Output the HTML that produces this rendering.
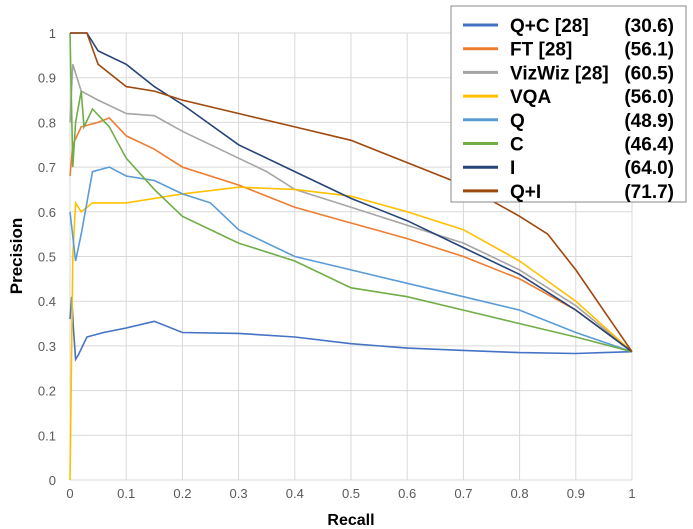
<!DOCTYPE html>
<html><head><meta charset="utf-8"><style>
body{margin:0;background:#fff;}
svg{display:block;font-family:"Liberation Sans",sans-serif;}
</style></head><body>
<svg id="chart" width="693" height="529"></svg>
<script>
const xTicks=[0,0.1,0.2,0.3,0.4,0.5,0.6,0.7,0.8,0.9,1];
const yTicks=[0,0.1,0.2,0.3,0.4,0.5,0.6,0.7,0.8,0.9,1];
const seriesNames=["Q+C [28]","FT [28]","VizWiz [28]","VQA","Q","C","I","Q+I"];
const seriesScores=["(30.6)","(56.1)","(60.5)","(56.0)","(48.9)","(46.4)","(64.0)","(71.7)"];
const seriesColors=["#4472C4","#ED7D31","#A5A5A5","#FFC000","#5B9BD5","#70AD47","#264478","#9E480E"];
const recallQC=[0,0.003,0.006,0.01,0.015,0.03,0.06,0.1,0.15,0.2,0.3,0.4,0.5,0.6,0.7,0.8,0.9,0.95,1];
const precQC=[0.36,0.41,0.34,0.27,0.28,0.32,0.33,0.34,0.355,0.33,0.328,0.32,0.305,0.295,0.29,0.285,0.283,0.285,0.287];
const recallFT=[0,0.005,0.02,0.05,0.07,0.1,0.15,0.2,0.3,0.4,0.5,0.6,0.7,0.8,0.9,1];
const precFT=[0.68,0.75,0.79,0.80,0.81,0.77,0.74,0.70,0.66,0.61,0.575,0.54,0.50,0.45,0.38,0.287];
const recallVW=[0,0.005,0.02,0.05,0.1,0.15,0.2,0.3,0.35,0.4,0.5,0.6,0.7,0.8,0.9,1];
const precVW=[0.8,0.93,0.87,0.85,0.82,0.815,0.78,0.72,0.69,0.65,0.61,0.57,0.53,0.47,0.39,0.287];
const recallVQA=[0,0.005,0.01,0.02,0.04,0.1,0.2,0.3,0.4,0.5,0.6,0.7,0.8,0.9,1];
const precVQA=[0,0.5,0.62,0.60,0.62,0.62,0.64,0.655,0.65,0.635,0.60,0.56,0.49,0.40,0.287];
const recallQ=[0,0.01,0.02,0.04,0.07,0.1,0.15,0.2,0.25,0.3,0.4,0.5,0.6,0.7,0.8,0.9,1];
const precQ=[0.6,0.49,0.55,0.69,0.70,0.68,0.67,0.64,0.62,0.56,0.50,0.47,0.44,0.41,0.38,0.33,0.287];
const recallC=[0,0.005,0.01,0.02,0.025,0.04,0.07,0.1,0.15,0.2,0.3,0.4,0.5,0.6,0.7,0.8,0.9,1];
const precC=[1,0.7,0.8,0.87,0.79,0.83,0.79,0.72,0.65,0.59,0.53,0.49,0.43,0.41,0.38,0.35,0.32,0.287];
const recallI=[0,0.005,0.03,0.05,0.1,0.15,0.2,0.3,0.4,0.5,0.6,0.7,0.8,0.9,1];
const precI=[1,1,1,0.96,0.93,0.88,0.84,0.75,0.69,0.63,0.58,0.52,0.46,0.38,0.287];
const recallQI=[0,0.005,0.03,0.05,0.1,0.15,0.2,0.3,0.4,0.5,0.6,0.7,0.8,0.85,0.9,1];
const precQI=[1,1,1,0.93,0.88,0.87,0.85,0.82,0.79,0.76,0.71,0.66,0.59,0.55,0.47,0.287];
const allRecall=[recallQC,recallFT,recallVW,recallVQA,recallQ,recallC,recallI,recallQI];
const allPrec=[precQC,precFT,precVW,precVQA,precQ,precC,precI,precQI];

const NS="http://www.w3.org/2000/svg";
const svg=document.getElementById('chart');
const X0=70,X1=632,Y0=480,Y1=33;
const xs=v=>X0+v*(X1-X0);
const ys=v=>Y0-v*(Y0-Y1);
function mk(t,a){const e=document.createElementNS(NS,t);for(const k in a)e.setAttribute(k,a[k]);svg.appendChild(e);return e;}
xTicks.forEach(t=>{
  const g=mk('line',{x1:xs(t),x2:xs(t),y1:Y1,y2:Y0,stroke:'#d9d9d9','stroke-width':1});
  
  
  const l=mk('text',{x:xs(t),y:Y0+18,'text-anchor':'middle','font-size':13,fill:'#595959'});
  l.textContent=String(t);
  
  
});
yTicks.forEach(t=>{
  const g=mk('line',{x1:X0,x2:X1,y1:ys(t),y2:ys(t),stroke:'#d9d9d9','stroke-width':1});
  
  
  const l=mk('text',{x:X0-14,y:ys(t)+5,'text-anchor':'end','font-size':13,fill:'#595959'});
  l.textContent=String(t);
  
  
});
allRecall.forEach((r,i)=>{
  const p=allPrec[i];
  const d=r.map((v,j)=>(j?'L':'M')+xs(v).toFixed(1)+','+ys(p[j]).toFixed(1)).join('');
  const e=mk('path',{d:d,fill:'none',stroke:seriesColors[i],'stroke-width':1.6});
  
  
});
const xt=mk('text',{x:351,y:525,'text-anchor':'middle','font-size':16,'font-weight':'bold',fill:'#000'});
xt.textContent='Recall';


const yt=mk('text',{x:0,y:0,'text-anchor':'middle','font-size':17,'font-weight':'bold',fill:'#000',transform:'translate(22,256) rotate(-90)'});
yt.textContent='Precision';


const lb=mk('rect',{x:451,y:6,width:235,height:196,fill:'#fff',stroke:'#888','stroke-width':1});


seriesNames.forEach((n,i)=>{
  const y=25+i*23.7;
  const s=mk('line',{x1:463,x2:498,y1:y,y2:y,stroke:seriesColors[i],'stroke-width':3});
  
  
  const t=mk('text',{x:510,y:y+7,'font-size':19,'font-weight':'bold',fill:'#000'});
  t.textContent=n;
  
  
  const sc=mk('text',{x:674,y:y+7,'text-anchor':'end','font-size':19,'font-weight':'bold',fill:'#000'});
  sc.textContent=seriesScores[i];
  
  
});
</script>
</body></html>
